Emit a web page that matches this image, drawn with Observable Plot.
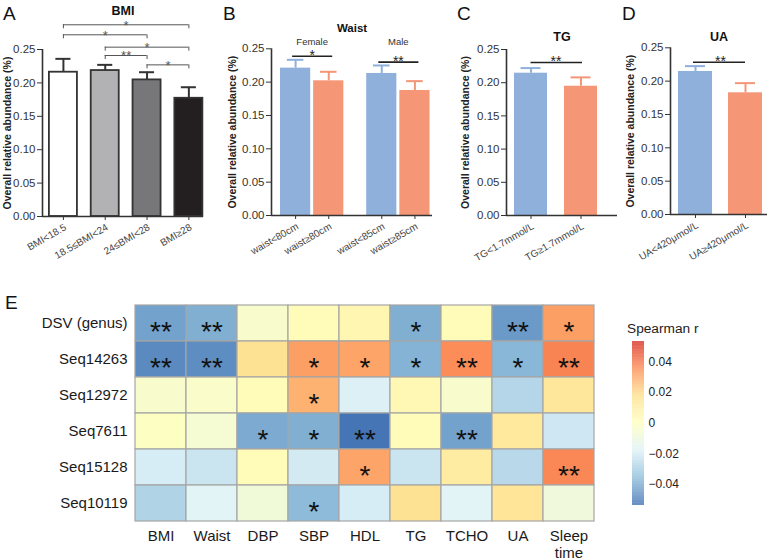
<!DOCTYPE html>
<html><head><meta charset="utf-8">
<script src="https://cdn.jsdelivr.net/npm/d3@7"></script>
<script src="https://cdn.jsdelivr.net/npm/@observablehq/plot@0.6"></script>
<style>
body{margin:0;background:#fff;}
#wrap{position:relative;width:773px;height:560px;overflow:hidden;font-family:"Liberation Sans",Arial,sans-serif;background:#fff;}
#wrap > *{position:absolute;}
.letter{line-height:1;color:#111;}
</style></head><body><div id="wrap"></div>
<script>
// ---------- data ----------
const yTicks = [0, 0.05, 0.10, 0.15, 0.20, 0.25];

const bmiGroups = ["BMI<18.5", "18.5≤BMI<24", "24≤BMI<28", "BMI≥28"];
const bmiMean = [0.216, 0.2185, 0.2045, 0.177];
const bmiUpper = [0.236, 0.227, 0.216, 0.1935];
const bmiComparisons = [[0, 3, "*"], [0, 2, "*"], [1, 3, "*"], [1, 2, "**"], [2, 3, "*"]];

const waistGroups = ["waist<80cm", "waist≥80cm", "waist<85cm", "waist≥85cm"];
const waistSex = ["Female", "Male"];
const waistMean = [0.221, 0.202, 0.213, 0.1875];
const waistUpper = [0.2335, 0.2155, 0.225, 0.2015];
const waistSig = ["*", "**"];

const tgGroups = ["TG<1.7mmol/L", "TG≥1.7mmol/L"];
const tgMean = [0.2143, 0.1947];
const tgUpper = [0.222, 0.208];
const tgSig = "**";

const uaGroups = ["UA<420μmol/L", "UA≥420μmol/L"];
const uaMean = [0.2145, 0.1825];
const uaUpper = [0.2225, 0.197];
const uaSig = "**";

const taxa = ["DSV (genus)", "Seq14263", "Seq12972", "Seq7611", "Seq15128", "Seq10119"];
const traits = ["BMI", "Waist", "DBP", "SBP", "HDL", "TG", "TCHO", "UA", "Sleep time"];
const spearmanR = [
  [-0.043, -0.040, -0.004, 0.002, 0.005, -0.040, 0.002, -0.045, 0.032],
  [-0.049, -0.048, 0.017, 0.032, 0.031, -0.039, 0.036, -0.038, 0.038],
  [-0.004, -0.003, 0.002, 0.028, -0.019, 0.004, -0.004, -0.028, 0.014],
  [-0.001, -0.006, -0.041, -0.040, -0.054, 0.002, -0.043, 0.013, -0.022],
  [-0.020, -0.023, 0.002, -0.021, 0.031, -0.023, 0.011, -0.027, 0.037],
  [-0.029, -0.017, -0.008, -0.037, -0.020, 0.017, -0.017, 0.015, -0.009]
];
const significance = [
  ["**", "**", "", "", "", "*", "", "**", "*"],
  ["**", "**", "", "*", "*", "*", "**", "*", "**"],
  ["", "", "", "*", "", "", "", "", ""],
  ["", "", "*", "*", "**", "", "**", "", ""],
  ["", "", "", "", "*", "", "", "", "**"],
  ["", "", "", "*", "", "", "", "", ""]
];
const legendTicks = [-0.04, -0.02, 0, 0.02, 0.04];

// ---------- styles ----------
const FONT = '"Liberation Sans", Arial, sans-serif';
const AX = "#333";
const BLUE = "#8fb0db", SALMON = "#f59677";
const rdylbu = ["#4575b4", "#91bfdb", "#e0f3f8", "#ffffbf", "#fee090", "#fc8d59", "#d73027"];
const colorDomain = [-0.054, -0.036, -0.018, 0, 0.018, 0.036, 0.054];

const wrap = document.getElementById("wrap");
function place(node, left, top) {
  node.style.position = "absolute";
  node.style.left = left + "px";
  node.style.top = top + "px";
  wrap.appendChild(node);
}

function barPanel(c) {
  const rows = c.labels.map((label, i) => ({
    label, pos: c.pos[i], mean: c.mean[i], upper: c.upper[i],
    fill: c.fill[i], stroke: c.stroke[i], err: c.err[i]
  }));
  const marks = [
    Plot.rectY(rows, {x1: d => d.pos - c.half, x2: d => d.pos + c.half, y1: 0, y2: "mean",
      fill: "fill", stroke: "stroke", strokeWidth: c.barStroke}),
    Plot.ruleX(rows, {x: "pos", y1: "mean", y2: "upper", stroke: "err", strokeWidth: 2}),
    Plot.ruleY(rows, {y: "upper", x1: d => d.pos - c.cap, x2: d => d.pos + c.cap, stroke: "err", strokeWidth: 2}),
    Plot.ruleY([0], {stroke: AX, strokeWidth: 1.6}),
    Plot.ruleX([c.xDomain[0]], {y1: 0, y2: 0.25, stroke: AX, strokeWidth: 1.6}),
    Plot.axisY({ticks: yTicks, tickFormat: d3.format(".2f"), tickSize: 5, tickPadding: 2, label: null, fontSize: 11.5}),
    Plot.axisX({ticks: c.pos, tickSize: 4, tickFormat: () => "", label: null}),
    Plot.text(rows, {x: "pos", y: 0, text: "label", rotate: -30, textAnchor: "end", dx: 2, dy: 10, fontSize: 10, fill: "#444"}),
    Plot.text([c.title], {text: d => d, frameAnchor: "top", textAnchor: "middle", lineAnchor: "middle", dy: c.titleDy, fontWeight: "bold", fontSize: c.titleSize, fill: "#111"}),
    Plot.text(["Overall relative abundance (%)"], {text: d => d, frameAnchor: "left", textAnchor: "middle", rotate: -90, lineAnchor: "middle", dx: c.ylabDx, fontWeight: "bold", fontSize: 10.5, fill: "#222"}),
    ...(c.extra || [])
  ];
  const svg = Plot.plot({
    width: c.width, height: c.height,
    marginLeft: c.ml, marginRight: c.mr, marginTop: c.mt, marginBottom: c.mb,
    x: {type: "linear", domain: c.xDomain, label: null},
    y: {domain: [0, 0.25], label: null},
    color: {type: "identity"},
    style: {fontFamily: FONT, color: AX, background: "transparent", overflow: "visible"},
    marks
  });
  place(svg, c.left, c.top);
}

// ---------- Panel A ----------
const bmiPos = [0, 1, 2, 3];
const bracketY = [0.287, 0.272, 0.2535, 0.241, 0.227];
const brk = bmiComparisons.map(([a, b, s], k) => ({x1: bmiPos[a], x2: bmiPos[b], y: bracketY[k], s}));
barPanel({
  left: 0, top: 0, width: 210, height: 260, ml: 42, mr: 7, mt: 49, mb: 44,
  xDomain: [-0.5, 3.35], pos: bmiPos, labels: bmiGroups, mean: bmiMean, upper: bmiUpper,
  fill: ["#ffffff", "#b2b2b5", "#77777a", "#231f20"], stroke: ["#333", "#333", "#333", "#333"],
  err: ["#333", "#333", "#333", "#333"], half: 0.335, cap: 0.18, barStroke: 1.8,
  title: "BMI", titleDy: -39, titleSize: 12.5, ylabDx: -35,
  extra: [
    Plot.ruleY(brk, {x1: "x1", x2: "x2", y: "y", stroke: "#555", strokeWidth: 1}),
    Plot.ruleX(brk, {x: "x1", y1: "y", y2: d => d.y - 0.006, stroke: "#555", strokeWidth: 1}),
    Plot.ruleX(brk, {x: "x2", y1: "y", y2: d => d.y - 0.006, stroke: "#555", strokeWidth: 1}),
    Plot.text(brk, {x: d => (d.x1 + d.x2) / 2, y: "y", text: "s", fontSize: 13, dy: 0.8, fill: "#555"})
  ]
});

// ---------- Panel B ----------
const waistPos = [0, 1, 2.6, 3.6];
const waistPairs = waistSex.map((sex, k) => ({sex, a: waistPos[2 * k], b: waistPos[2 * k + 1], s: waistSig[k], y: [0.2389, 0.23][k]}));
barPanel({
  left: 195, top: 0, width: 245, height: 260, ml: 76, mr: 8, mt: 48.3, mb: 45,
  xDomain: [-0.727, 4.13], pos: waistPos, labels: waistGroups, mean: waistMean, upper: waistUpper,
  fill: [BLUE, SALMON, BLUE, SALMON], stroke: ["none", "none", "none", "none"],
  err: [BLUE, SALMON, BLUE, SALMON], half: 0.455, cap: 0.25, barStroke: 0,
  title: "Waist", titleDy: -20.3, titleSize: 11.5, ylabDx: -39,
  extra: [
    Plot.ruleY(waistPairs, {x1: d => d.a - 0.09, x2: d => d.b + 0.12, y: "y", stroke: "#222", strokeWidth: 1.6}),
    Plot.text(waistPairs, {x: d => (d.a + d.b) / 2, y: "y", text: "s", fontSize: 14, dy: -1, fill: "#222"}),
    Plot.text(waistPairs, {x: d => (d.a + d.b) / 2, y: 0.2605, text: "sex", fontSize: 9.5, fill: "#333"})
  ]
});

// ---------- Panel C ----------
const twoPos = [0, 1];
barPanel({
  left: 440, top: 0, width: 185, height: 260, ml: 66, mr: 8, mt: 49, mb: 45,
  xDomain: [-0.49, 1.73], pos: twoPos, labels: tgGroups, mean: tgMean, upper: tgUpper,
  fill: [BLUE, SALMON], stroke: ["none", "none"], err: [BLUE, SALMON], half: 0.33, cap: 0.2, barStroke: 0,
  title: "TG", titleDy: -12.3, titleSize: 12.5, ylabDx: -41,
  extra: [
    Plot.ruleY([tgSig], {x1: twoPos[0], x2: twoPos[1] + 0.03, y: 0.2304, stroke: "#222", strokeWidth: 1.6}),
    Plot.text([tgSig], {x: (twoPos[0] + twoPos[1]) / 2, y: 0.2304, text: d => d, fontSize: 14, dy: -1, fill: "#222"})
  ]
});

// ---------- Panel D ----------
barPanel({
  left: 620, top: 0, width: 153, height: 260, ml: 50, mr: 6, mt: 47.3, mb: 46,
  xDomain: [-0.5, 1.44], pos: twoPos, labels: uaGroups, mean: uaMean, upper: uaUpper,
  fill: [BLUE, SALMON], stroke: ["none", "none"], err: [BLUE, SALMON], half: 0.34, cap: 0.2, barStroke: 0,
  title: "UA", titleDy: -10.6, titleSize: 12.5, ylabDx: -40,
  extra: [
    Plot.ruleY([uaSig], {x1: twoPos[0] - 0.04, x2: twoPos[1], y: 0.2284, stroke: "#222", strokeWidth: 1.6}),
    Plot.text([uaSig], {x: (twoPos[0] + twoPos[1]) / 2, y: 0.2284, text: d => d, fontSize: 14, dy: -1, fill: "#222"})
  ]
});

// ---------- Panel E heatmap ----------
const cells = taxa.flatMap((taxon, i) => traits.map((trait, j) => ({taxon, trait, r: spearmanR[i][j], sig: significance[i][j]})));
const colorScale = {type: "linear", domain: colorDomain, range: rdylbu, interpolate: "rgb", clamp: true};
const heat = Plot.plot({
  width: 773, height: 300, marginLeft: 131, marginRight: 175, marginTop: 43, marginBottom: 37,
  x: {domain: traits, padding: 0, label: null},
  y: {domain: taxa, padding: 0, label: null},
  color: colorScale,
  style: {fontFamily: FONT, color: "#1a1a1a", background: "transparent", overflow: "visible"},
  marks: [
    Plot.cell(cells, {x: "trait", y: "taxon", fill: "r", stroke: "#a6a6a6", strokeWidth: 1.2}),
    Plot.text(cells, {x: "trait", y: "taxon", text: "sig", fontSize: 28, dy: 9, fill: "#111"}),
    Plot.axisX({tickSize: 0, tickPadding: 5, fontSize: 15, label: null, lineHeight: 1.15, tickFormat: d => d.replace(" ", "\n")}),
    Plot.axisY({tickSize: 0, tickPadding: 4, fontSize: 15, label: null})
  ]
});
place(heat, 0, 260);

// legend color bar
const legendStops = d3.range(-0.0536, 0.0532, 0.0004);
const legend = Plot.plot({
  width: 70, height: 184, marginLeft: 12, marginRight: 46, marginTop: 10, marginBottom: 10,
  x: {domain: [0, 1], axis: null},
  y: {domain: [-0.0536, 0.0532], label: null},
  color: colorScale,
  style: {fontFamily: FONT, color: "#222", background: "transparent", overflow: "visible"},
  marks: [
    Plot.rect(legendStops, {x1: 0, x2: 1, y1: d => d, y2: d => Math.min(d + 0.00045, 0.0532), fill: d => d}),
    Plot.axisY({anchor: "right", ticks: legendTicks, tickSize: 0, tickPadding: 4, fontSize: 12, label: null,
      tickFormat: d => d === 0 ? "0" : d.toFixed(2).replace("-", "−")})
  ]
});
place(legend, 620, 331);

// text overlays
function addText(txt, left, top, size, extra) {
  const d = document.createElement("div");
  d.textContent = txt;
  d.className = "letter";
  d.style.fontSize = size + "px";
  if (extra) Object.assign(d.style, extra);
  place(d, left, top);
}
addText("A", 3, 4, 19);
addText("B", 223, 3.5, 19);
addText("C", 457, 3.5, 19);
addText("D", 622, 3.5, 19);
addText("E", 5, 292.5, 19);
addText("Spearman r", 627, 322, 13.7, {color: "#222"});
</script>
</body></html>
